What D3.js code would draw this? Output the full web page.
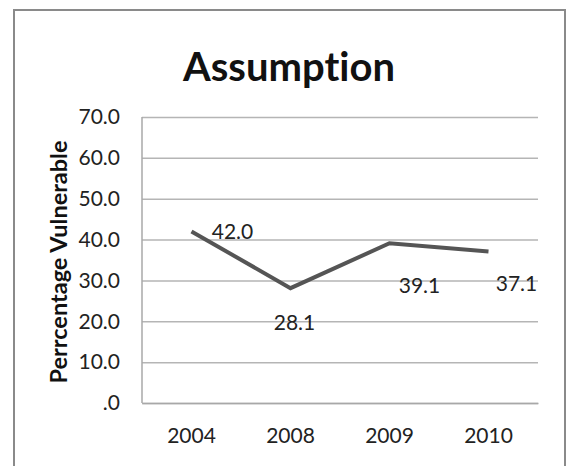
<!DOCTYPE html>
<html><head><meta charset="utf-8">
<script src="https://cdn.jsdelivr.net/npm/d3@7"></script>
<style>body{margin:0;background:#fff}text{font-family:Lato,"Open Sans",sans-serif;fill:#222;font-variant-ligatures:none}</style>
</head><body><svg id="c" width="570" height="466"></svg>
<script>
const categories = ["2004","2008","2009","2010"];
const values = [42.0, 28.1, 39.1, 37.1];
const labels = ["42.0","28.1","39.1","37.1"];
const yTicks = [0,10,20,30,40,50,60,70];
const labelOffsets = [[41,0],[4,34],[30,42],[28,32]];

const svg = d3.select("#c");
svg.append("rect").attr("x",14).attr("y",10).attr("width",551).attr("height",470)
  .attr("fill","#fff").attr("stroke","#8a8a8a").attr("stroke-width",2);

const m = {l:142, r:538, t:117, b:403};
const x = d3.scaleBand().domain(categories).range([m.l,m.r]);
const y = d3.scaleLinear().domain([0,70]).range([m.b,m.t]);

svg.append("text").attr("x",289).attr("y",81).attr("text-anchor","middle")
  .attr("font-size",40).attr("font-weight","bold").style("fill","#111").text("Assumption");

const ya = svg.append("g").attr("transform",`translate(${m.l},0)`)
  .call(d3.axisLeft(y).tickValues(yTicks).tickSize(-(m.r-m.l)).tickPadding(22)
    .tickFormat(d=> d===0 ? ".0" : d3.format(".1f")(d)));
ya.select(".domain").remove();
ya.selectAll(".tick line").attr("stroke","#b5b5b5").attr("stroke-width",1.5);
ya.selectAll(".tick text").attr("font-size",21).style("font-family","Lato,sans-serif").style("fill","#222");
svg.append("line").attr("x1",m.l).attr("x2",m.l).attr("y1",m.t).attr("y2",m.b)
  .attr("stroke","#a8a8a8").attr("stroke-width",1.5);

const xa = svg.append("g").attr("transform",`translate(0,${m.b})`)
  .call(d3.axisBottom(x).tickSize(0).tickPadding(25));
xa.select(".domain").attr("stroke","#a8a8a8").attr("stroke-width",1.5);
xa.selectAll(".tick text").attr("font-size",21).style("font-family","Lato,sans-serif").style("fill","#222");

svg.append("text").attr("transform","translate(67,262) rotate(-90)").attr("text-anchor","middle")
  .attr("font-size",23.5).attr("font-weight","bold").style("fill","#111").text("Perrcentage Vulnerable");

const line = d3.line().x((d,i)=>x(categories[i])+x.bandwidth()/2).y(d=>y(d));
svg.append("path").datum(values).attr("d",line).attr("fill","none")
  .attr("stroke","#555").attr("stroke-width",4).attr("stroke-linejoin","miter");

svg.selectAll(".lbl").data(values).enter().append("text").attr("class","lbl")
  .attr("x",(d,i)=>x(categories[i])+x.bandwidth()/2+labelOffsets[i][0])
  .attr("y",(d,i)=>y(d)+labelOffsets[i][1])
  .attr("dy","0.35em").attr("text-anchor","middle").attr("font-size",21)
  .text((d,i)=>labels[i]);
</script></body></html>
